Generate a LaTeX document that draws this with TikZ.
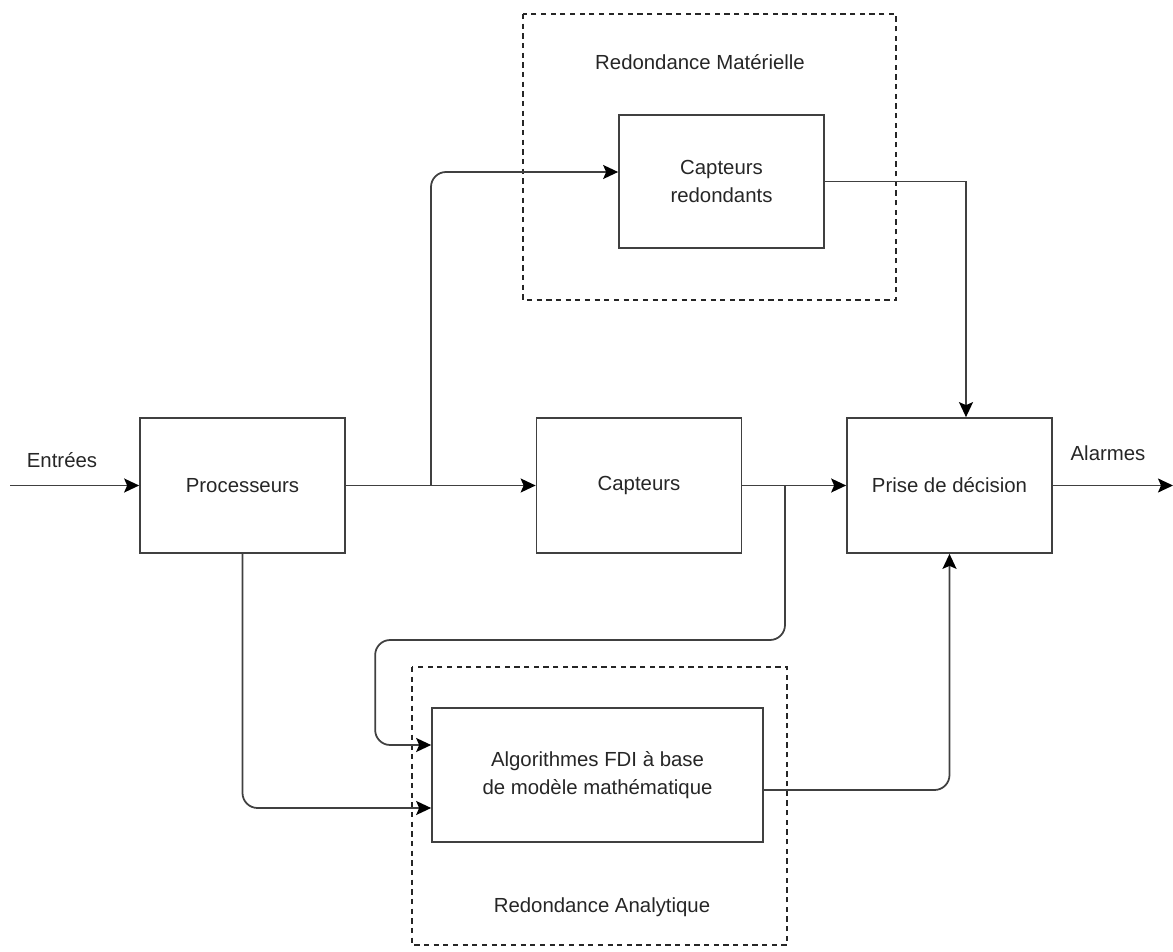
\documentclass[tikz,border=0pt]{standalone}
\usepackage{fontspec}
\setmainfont{Liberation Sans}
\usetikzlibrary{arrows.meta}

\begin{document}
\begin{tikzpicture}[x=0.02cm, y=-0.02cm,
    every node/.style={font=\fontsize{11.6}{16}\selectfont, text=black!85},
    bloc/.style={draw=black!75, line width=1pt, rectangle, align=center, minimum width=4.1cm, minimum height=2.7cm},
    lien/.style={draw=black!75, line width=1pt, -{Stealth[length=3mm, width=2.8mm, inset=0.6mm, black]}},
    cadre/.style={draw=black!85, line width=0.8pt, dash pattern=on 3pt off 2.5pt}]
    \useasboundingbox (0,0) rectangle (1173,952);

    % blocs principaux
    \node[bloc] (proc) at (242.5,485.5) {Processeurs};
    \node[bloc] (capt) at (639,485.5) {Capteurs};
    \node[bloc] (prise) at (949.5,485.5) {Prise de d\'ecision};
    \node[bloc, minimum height=2.66cm] (captred) at (721.5,181.5) {Capteurs\\redondants};
    \node[bloc, minimum width=6.62cm, minimum height=2.68cm] (algo) at (597.5,775) {Algorithmes FDI \`a base\\de mod\`ele math\'ematique};

    % zones de redondance
    \draw[cadre] (523,14) rectangle (896,300);
    \draw[cadre] (412,667) rectangle (787,945);
    \node (redmat) at (700,62) {Redondance Mat\'erielle};
    \node (redana) at (602,907) {Redondance Analytique};

    % entree et sortie
    \coordinate (entree) at (10,485.5);
    \coordinate (sortie) at (1173,485.5);
    \node (lblin) at (62,460) {Entr\'ees};
    \node (lblout) at (1108,453) {Alarmes};
    \draw[lien] (entree) -- (proc.west);
    \draw[lien] (prise.east) -- (sortie);

    % liaisons
    \coordinate (b1) at (431,485.5);
    \coordinate (b2) at (785,485.5);
    \draw[lien] (proc.east) -- (capt.west);
    \draw[lien] (capt.east) -- (prise.west);
    \draw[lien, rounded corners=0.3cm] (b1) |- ([yshift=0.19cm]captred.west);
    \draw[lien] (captred.east) -| ([xshift=0.33cm]prise.north);
    \draw[lien, rounded corners=0.3cm] (b2) -- ++(0,154.5) -| ([xshift=-1.12cm,yshift=0.6cm]algo.west) -- ([yshift=0.6cm]algo.west);
    \draw[lien, rounded corners=0.3cm] (proc.south) |- ([yshift=-0.66cm]algo.west);
    \draw[lien, rounded corners=0.3cm] ([yshift=-0.3cm]algo.east) -| (prise.south);
\end{tikzpicture}
\end{document}
